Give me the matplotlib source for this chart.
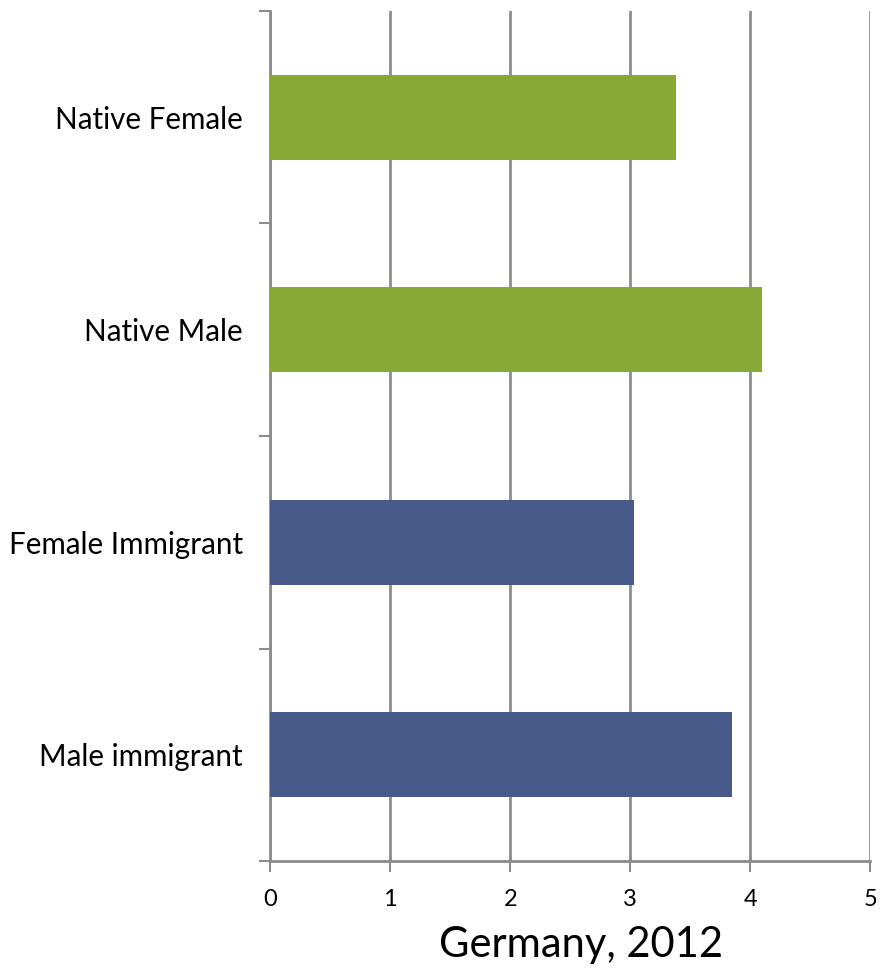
import matplotlib
matplotlib.use('Agg')
import matplotlib.pyplot as plt

plt.rcParams['font.family'] = ['Lato', 'DejaVu Sans']

# data, top to bottom as drawn
categories = ['Native Female', 'Native Male', 'Female Immigrant', 'Male immigrant']
values = [3.38, 4.10, 3.03, 3.85]
colors = ['#86AA35', '#86AA35', '#475A8A', '#475A8A']
xticks = [0, 1, 2, 3, 4, 5]
title = 'Germany, 2012'

fig = plt.figure(figsize=(8.81, 9.73), dpi=100)
ax = fig.add_axes([0.3068, 0.1151, 0.6811, 0.8736])

pos = list(range(len(categories)))
ax.barh(pos, values, height=0.4, color=colors, zorder=3)
ax.set_ylim(len(categories) - 0.5, -0.5)
ax.set_xlim(0, 5)

# category labels without ticks, ticks at the boundaries
ax.set_yticks([p - 0.5 for p in pos] + [len(categories) - 0.5])
ax.set_yticklabels([])
ax.tick_params(axis='y', length=8, width=1.5, color='#8c8c8c', direction='out')
for p, c in zip(pos, categories):
    ax.text(-0.23, p + 0.012, c, ha='right', va='center', fontsize=21.3,
            transform=ax.transData)

ax.set_xticks(xticks)
ax.set_xticklabels([str(t) for t in xticks], fontsize=17)
ax.tick_params(axis='x', length=8, width=1.5, color='#8c8c8c',
               direction='out', pad=12)

ax.grid(axis='x', color='#8c8c8c', linewidth=2, zorder=0)
for s in ['top', 'right']:
    ax.spines[s].set_visible(False)
for s in ['left', 'bottom']:
    ax.spines[s].set_color('#8c8c8c')
    ax.spines[s].set_linewidth(2)

fig.text(0.66, 0.029, title, ha='center', va='center', fontsize=30)

plt.savefig('out.png', dpi=100)
